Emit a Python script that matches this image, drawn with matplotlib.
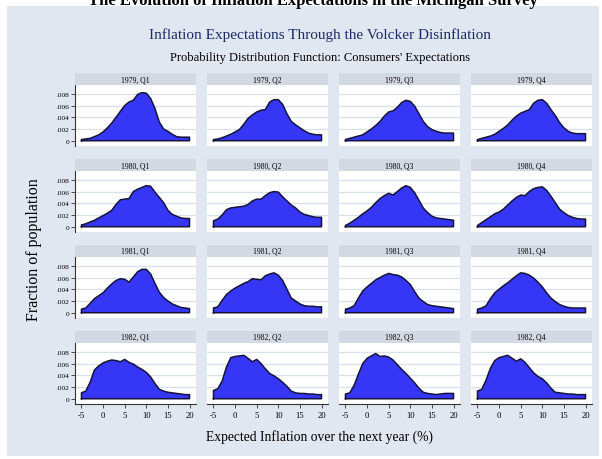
import matplotlib
matplotlib.use("Agg")
import matplotlib.pyplot as plt
from matplotlib.patches import Rectangle

# Expected inflation grid (%) on which the densities are evaluated
inflation = [-5, -4, -3, -2, -1, 0, 1, 2, 3, 4, 5, 6, 7, 8, 9, 10,
             11, 12, 13, 14, 15, 16, 17, 18, 19, 20]

# Density of consumers' one-year-ahead inflation expectations, by quarter
d1979_q1 = [.0002, .0003, .0004, .0007, .0010, .0015, .0022, .0030, .0040, .0050, .0060, .0066, .0069,
            .0079, .0082, .0081, .0072, .0055, .0032, .0020, .0016, .0011, .0007, .0006, .0006, .0006]
d1979_q2 = [.0002, .0003, .0005, .0008, .0011, .0015, .0019, .0028, .0038, .0044, .0049, .0052, .0053,
            .0066, .0070, .0070, .0062, .0046, .0033, .0027, .0022, .0017, .0013, .0011, .0010, .0010]
d1979_q3 = [.0002, .0004, .0006, .0008, .0010, .0015, .0020, .0026, .0033, .0042, .0049, .0051, .0057,
            .0065, .0069, .0067, .0059, .0046, .0033, .0024, .0019, .0016, .0014, .0013, .0013, .0013]
d1979_q4 = [.0002, .0004, .0006, .0008, .0011, .0016, .0021, .0027, .0035, .0042, .0047, .0050, .0053,
            .0064, .0069, .0070, .0064, .0053, .0043, .0031, .0022, .0016, .0013, .0012, .0012, .0012]
d1980_q1 = [.0003, .0005, .0008, .0011, .0015, .0019, .0023, .0028, .0038, .0046, .0047, .0048, .0060,
            .0064, .0067, .0070, .0069, .0059, .0050, .0041, .0028, .0021, .0018, .0015, .0014, .0014]
d1980_q2 = [.0010, .0013, .0020, .0029, .0032, .0033, .0034, .0035, .0038, .0044, .0047, .0047, .0053,
            .0058, .0060, .0059, .0051, .0044, .0037, .0032, .0025, .0021, .0019, .0017, .0016, .0016]
d1980_q3 = [.0002, .0006, .0011, .0016, .0022, .0027, .0033, .0041, .0048, .0053, .0057, .0054, .0060,
            .0066, .0070, .0067, .0058, .0045, .0032, .0024, .0018, .0015, .0014, .0013, .0012, .0011]
d1980_q4 = [.0002, .0007, .0012, .0017, .0022, .0025, .0030, .0037, .0044, .0050, .0054, .0053, .0060,
            .0065, .0067, .0068, .0062, .0052, .0041, .0030, .0024, .0019, .0016, .0014, .0013, .0013]
d1981_q1 = [.0006, .0008, .0016, .0024, .0029, .0034, .0042, .0049, .0055, .0058, .0057, .0052, .0061,
            .0070, .0074, .0074, .0066, .0050, .0035, .0026, .0020, .0015, .0012, .0009, .0008, .0007]
d1981_q2 = [.0008, .0010, .0021, .0031, .0037, .0042, .0046, .0050, .0053, .0058, .0057, .0056, .0063,
            .0066, .0068, .0064, .0055, .0040, .0025, .0020, .0015, .0012, .0011, .0011, .0010, .0010]
d1981_q3 = [.0006, .0008, .0012, .0025, .0037, .0044, .0050, .0056, .0060, .0064, .0067, .0065, .0064,
            .0061, .0055, .0048, .0036, .0025, .0019, .0014, .0012, .0011, .0010, .0009, .0008, .0007]
d1981_q4 = [.0006, .0008, .0012, .0024, .0034, .0040, .0046, .0051, .0057, .0063, .0068, .0067, .0064,
            .0059, .0052, .0044, .0034, .0025, .0019, .0014, .0011, .0009, .0008, .0008, .0008, .0008]
d1982_q1 = [.0010, .0013, .0028, .0049, .0056, .0061, .0064, .0066, .0065, .0063, .0067, .0062, .0059,
            .0054, .0050, .0045, .0037, .0026, .0016, .0013, .0011, .0010, .0009, .0008, .0007, .0007]
d1982_q2 = [.0014, .0017, .0030, .0054, .0070, .0072, .0073, .0074, .0069, .0063, .0067, .0060, .0051,
            .0043, .0039, .0034, .0028, .0021, .0013, .0010, .0009, .0009, .0008, .0008, .0007, .0007]
d1982_q3 = [.0008, .0010, .0023, .0042, .0060, .0069, .0073, .0077, .0072, .0073, .0071, .0066, .0058,
            .0050, .0043, .0035, .0027, .0018, .0011, .0009, .0008, .0007, .0008, .0009, .0009, .0009]
d1982_q4 = [.0013, .0016, .0032, .0052, .0065, .0070, .0072, .0074, .0069, .0064, .0068, .0062, .0053,
            .0044, .0038, .0034, .0027, .0018, .0011, .0010, .0009, .0008, .0008, .0007, .0007, .0007]

years = ["1979", "1980", "1981", "1982"]
quarters = ["Q1", "Q2", "Q3", "Q4"]
densities = [
    [d1979_q1, d1979_q2, d1979_q3, d1979_q4],
    [d1980_q1, d1980_q2, d1980_q3, d1980_q4],
    [d1981_q1, d1981_q2, d1981_q3, d1981_q4],
    [d1982_q1, d1982_q2, d1982_q3, d1982_q4],
]
y_ticks = [0, .002, .004, .006, .008]
y_tick_labels = ["0", ".002", ".004", ".006", ".008"]
x_ticks = [-5, 0, 5, 10, 15, 20]
x_tick_labels = ["-5", "0", "5", "10", "15", "20"]

# Colours
region_col = "#e1e7f0"
strip_col = "#d3d9e3"
grid_col = "#d9e0ea"
fill_col = "#3636f6"
edge_col = "#14143c"
title_col = "#1b2a66"
SERIF = ["Liberation Serif", "DejaVu Serif"]

W, H = 602, 460
fig = plt.figure(figsize=(W / 100, H / 100), dpi=100)
fig.patch.set_facecolor("white")


def fx(px):
    return px / W


def fy(py):
    return 1 - py / H


# Graph region
fig.add_artist(Rectangle((fx(7), fy(457)), (599 - 7) / W, (457 - 7) / H,
                         transform=fig.transFigure, facecolor=region_col,
                         edgecolor="none", zorder=-10))

# Headline (runs off the top edge)
fig.text(fx(313), fy(5), "The Evolution of Inflation Expectations in the Michigan Survey",
         ha="center", va="baseline", fontsize=12, fontweight="bold",
         family=SERIF, color="black")

fig.text(fx(320), fy(35), "Inflation Expectations Through the Volcker Disinflation",
         ha="center", va="center", fontsize=11, family=SERIF, color=title_col)
fig.text(fx(320), fy(58), "Probability Distribution Function: Consumers' Expectations",
         ha="center", va="center", fontsize=9, family=SERIF, color="black")

fig.text(fx(34), fy(250), "Fraction of population", rotation=90,
         ha="center", va="center", fontsize=11.5, family=SERIF, color="black")
fig.text(fx(319), fy(437), "Expected Inflation over the next year (%)",
         ha="center", va="center", fontsize=9.8, family=SERIF, color="black")

col_left = [75, 207, 339, 471]
row_top = [74, 160, 246, 332]
panel_w = 121
strip_h = 12
plot_h = 61

for r in range(4):
    for c in range(4):
        left = col_left[c]
        top = row_top[r]
        # strip with the period label
        sax = fig.add_axes([fx(left), fy(top + strip_h), panel_w / W, strip_h / H])
        sax.set_facecolor(strip_col)
        sax.set_xticks([])
        sax.set_yticks([])
        for s in sax.spines.values():
            s.set_visible(False)
        sax.text(0.5, 0.5, f"{years[r]}, {quarters[c]}", ha="center", va="center",
                 fontsize=5.5, family=SERIF, transform=sax.transAxes)

        ax = fig.add_axes([fx(left), fy(top + strip_h + plot_h), panel_w / W, plot_h / H])
        ax.set_facecolor("white")
        ax.set_xlim(-6.5, 21.5)
        ax.set_ylim(-0.0009, 0.0095)
        for yv in y_ticks[1:]:
            ax.axhline(yv, color=grid_col, lw=0.9, zorder=0)
        vals = densities[r][c]
        ax.fill_between(inflation, 0, vals, facecolor=fill_col, edgecolor="none", zorder=2)
        xs = [inflation[0]] + inflation + [inflation[-1]]
        ys = [0] + vals + [0]
        ax.plot(xs + [inflation[0]], ys + [0], color=edge_col, lw=1.1, zorder=3,
                solid_joinstyle="round")
        for s in ax.spines.values():
            s.set_visible(False)
        ax.set_yticks(y_ticks)
        ax.set_xticks(x_ticks)
        if c == 0:
            ax.spines["left"].set_visible(True)
            ax.spines["left"].set_color("#333333")
            ax.spines["left"].set_linewidth(0.8)
            ax.set_yticklabels(y_tick_labels, family=SERIF, fontsize=5.3)
            ax.tick_params(axis="y", length=3, width=0.6, pad=1, color="#333333")
        else:
            ax.tick_params(axis="y", length=0, labelleft=False)
        if r == 3:
            ax.spines["bottom"].set_visible(True)
            ax.spines["bottom"].set_color("#333333")
            ax.spines["bottom"].set_linewidth(0.8)
            ax.set_xticklabels(x_tick_labels, family=SERIF, fontsize=6.2)
            ax.tick_params(axis="x", length=3, width=0.6, pad=2, color="#333333")
        else:
            ax.tick_params(axis="x", length=0, labelbottom=False)

fig.savefig("out.png", dpi=100, facecolor=fig.get_facecolor())
